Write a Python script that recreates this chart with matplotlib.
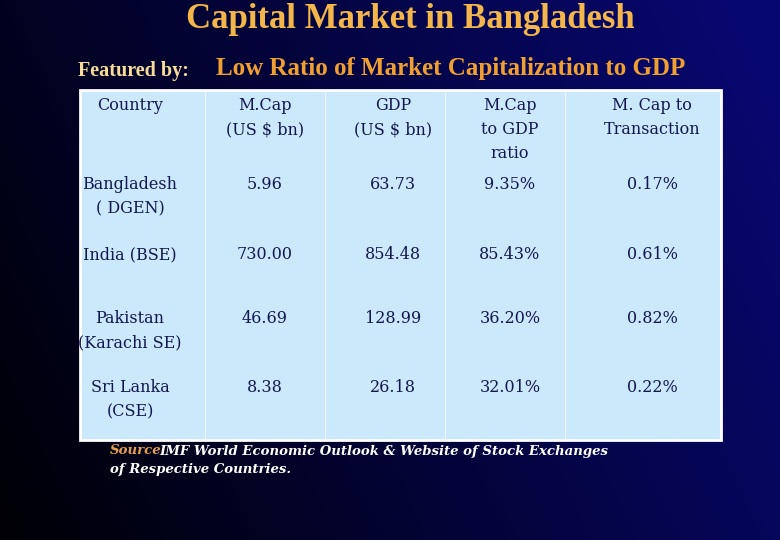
import numpy as np
import matplotlib.pyplot as plt

headers = ["Country", "M.Cap\n(US $ bn)", "GDP\n(US $ bn)", "M.Cap\nto GDP\nratio", "M. Cap to\nTransaction"]
countries = ["Bangladesh\n( DGEN)", "India (BSE)", "Pakistan\n(Karachi SE)", "Sri Lanka\n(CSE)"]
mcap = ["5.96", "730.00", "46.69", "8.38"]
gdp = ["63.73", "854.48", "128.99", "26.18"]
ratio = ["9.35%", "85.43%", "36.20%", "32.01%"]
transaction = ["0.17%", "0.61%", "0.82%", "0.22%"]

fig = plt.figure(figsize=(7.8, 5.4), dpi=100)
ax = fig.add_axes([0, 0, 1, 1])
ax.set_xlim(0, 780)
ax.set_ylim(540, 0)
ax.axis('off')

# dark gradient background, black on the left to navy on the right
gx = np.linspace(0, 1, 200)
gy = np.linspace(0, 1, 140)
X, Y = np.meshgrid(gx, gy)
t = np.clip(0.8 * X + 0.25 * (1 - Y), 0, 1)
bg = np.dstack([0.03 * t, 0.03 * t, 0.02 + 0.42 * t])
ax.imshow(bg, extent=[0, 780, 540, 0], aspect='auto', zorder=0)

serif = 'Liberation Serif'
ax.text(410, 20, "Capital Market in Bangladesh", color='#f2b64a', fontsize=25,
        fontweight='bold', family=serif, ha='center', va='center')
ax.text(78, 71, "Featured by:", color='#f7dc9a', fontsize=14.5, fontweight='bold',
        family=serif, va='center')
ax.text(216, 69, "Low Ratio of Market Capitalization to GDP", color='#f0a030',
        fontsize=18, fontweight='bold', family=serif, va='center')

# table panel
ax.add_patch(plt.Rectangle((80, 90), 641, 350, facecolor='#cce8fb',
                           edgecolor='white', linewidth=2, zorder=1))
for xd in [205, 325, 445, 565]:
    ax.plot([xd, xd], [90, 440], color='white', linewidth=0.8, alpha=0.7, zorder=2)

tserif = 'DejaVu Serif'
txt = '#141850'
col_x = [130, 265, 393, 510, 652]
for x, h in zip(col_x, headers):
    ax.text(x, 97, h, color=txt, fontsize=11.5, family=tserif, ha='center', va='top',
            linespacing=1.55, zorder=3)

row_y = [176, 246, 310, 379]
for i, y in enumerate(row_y):
    vals = [countries[i], mcap[i], gdp[i], ratio[i], transaction[i]]
    for x, v in zip(col_x, vals):
        ax.text(x, y, v, color=txt, fontsize=11.5, family=tserif, ha='center', va='top',
                linespacing=1.55, zorder=3)

ax.text(110, 451, "Source", color='#e6a050', fontsize=9.5, fontstyle='italic',
        fontweight='bold', family=tserif, va='center')
ax.text(159, 451, "IMF World Economic Outlook & Website of Stock Exchanges",
        color='white', fontsize=9.5, fontstyle='italic', fontweight='bold',
        family=tserif, va='center')
ax.text(110, 470, "of Respective Countries.", color='white', fontsize=9.5,
        fontstyle='italic', fontweight='bold', family=tserif, va='center')

fig.savefig('out.png', dpi=100)
